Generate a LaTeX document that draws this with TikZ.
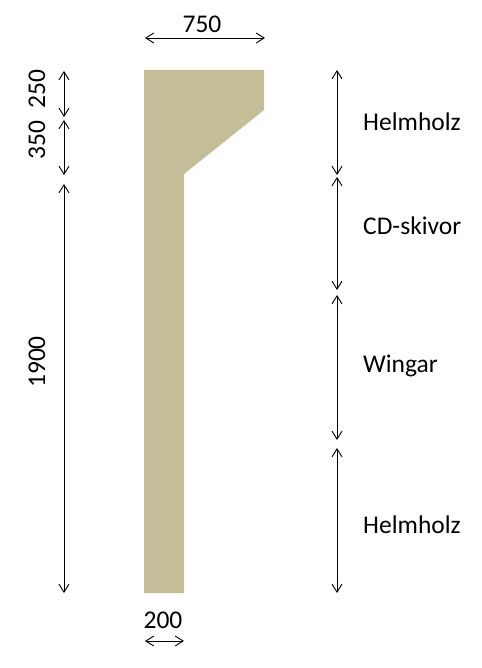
\documentclass[tikz,border=0pt]{standalone}
\usepackage{fontspec}
\setmainfont{Carlito}
\usetikzlibrary{arrows.meta}
\definecolor{tan}{HTML}{C4BD97}
\begin{document}
\begin{tikzpicture}[x=1pt,y=-1pt,
  barb/.tip={Straight Barb[length=8pt,width=10pt,line width=0.9pt]},
  dim/.style={{barb}-{barb}, line width=0.9pt, black},
  lbl/.style={font=\fontsize{25.5}{30}\selectfont, inner sep=0pt, anchor=base},
  rlbl/.style={lbl, anchor=base west},
  vlbl/.style={lbl, rotate=90, anchor=base}]
\useasboundingbox (0,0) rectangle (481,668);
% profile
\fill[tan] (144,70) -- (264,70) -- (264,110) -- (184,174) -- (184,593) -- (144,593) -- cycle;
% top dimension
\coordinate (t1) at (145,38);
\coordinate (t2) at (265,38);
\draw[dim] (t1) -- (t2);
\node[lbl] (d750) at (202,33) {750};
% bottom dimension
\coordinate (b1) at (145,641);
\coordinate (b2) at (184,641);
\draw[dim] (b1) -- (b2);
\node[lbl] (d200) at (163,628) {200};
% left dimensions
\coordinate (l0) at (64,71);
\coordinate (l1) at (64,117);
\coordinate (l2) at (64,120);
\coordinate (l3) at (64,175);
\coordinate (l4) at (64,184);
\coordinate (l5) at (64,593);
\draw[dim] (l0) -- (l1);
\draw[dim] (l2) -- (l3);
\draw[dim] (l4) -- (l5);
\node[vlbl] (d250) at (45,89) {250};
\node[vlbl] (d350) at (45,140) {350};
\node[vlbl] (d1900) at (45,362) {1900};
% right dimensions
\coordinate (r0) at (337,70);
\coordinate (r1) at (337,175);
\coordinate (r2) at (337,177);
\coordinate (r3) at (337,290);
\coordinate (r4) at (337,295);
\coordinate (r5) at (337,440);
\coordinate (r6) at (337,448);
\coordinate (r7) at (337,593);
\draw[dim] (r0) -- (r1);
\draw[dim] (r2) -- (r3);
\draw[dim] (r4) -- (r5);
\draw[dim] (r6) -- (r7);
\node[rlbl] (h1) at (363,131) {Helmholz};
\node[rlbl] (cd) at (363,234) {CD-skivor};
\node[rlbl] (wi) at (363,372) {Wingar};
\node[rlbl] (h2) at (363,533) {Helmholz};
\end{tikzpicture}
\end{document}
